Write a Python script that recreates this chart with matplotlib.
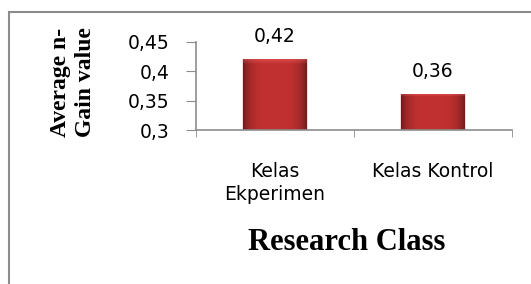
import matplotlib
matplotlib.use("Agg")
import matplotlib.pyplot as plt
import numpy as np
from matplotlib.patches import Rectangle

categories = ["Kelas\nEkperimen", "Kelas Kontrol"]
values = [0.42, 0.36]
value_labels = ["0,42", "0,36"]
yticks = [0.3, 0.35, 0.4, 0.45]
ytick_labels = ["0,3", "0,35", "0,4", "0,45"]

W, H = 531, 284
fig = plt.figure(figsize=(W / 100, H / 100), dpi=100)
fig.patch.set_facecolor("white")

# outer frame (cut off at right and bottom)
fig.patches.append(Rectangle((9 / W, -0.1), 1.2, 1 - 12 / H + 0.1,
                             transform=fig.transFigure, fill=False,
                             edgecolor="#8c8c8c", linewidth=1.5))

ax = fig.add_axes([196 / W, 1 - 130 / H, (512 - 196) / W, (130 - 42) / H])
ax.set_facecolor("none")
x = list(range(len(categories)))
ymin, ymax = 0.3, 0.45
bars = ax.bar(x, values, width=0.4, color="#b3262a", edgecolor="#f5d3d3",
              linewidth=1.2, zorder=3)

# shaded fill for each bar (darker at the sides, highlight at the top)
nx, ny = 64, 64
u = np.linspace(-1, 1, nx)
side = 1 - 0.40 * np.abs(u) ** 4
base = np.array([0.76, 0.19, 0.19])
img = np.ones((ny, nx, 3)) * base
img *= side[None, :, None]
top = np.zeros(ny)
top[:4] = np.linspace(0.35, 0.1, 4)
img = img + (np.array([1.0, 0.45, 0.45]) - img) * top[:, None, None]
img = np.clip(img, 0, 1)
for b in bars:
    x0, y0 = b.get_x(), max(b.get_y(), ymin)
    w, y1 = b.get_width(), b.get_y() + b.get_height()
    ax.imshow(img, extent=(x0, x0 + w, y0, y1), origin="upper",
              aspect="auto", zorder=4, interpolation="bilinear")
ax.set_xlim(-0.5, 1.5)
ax.set_ylim(ymin, ymax)

sans = ["DejaVu Sans"]
ax.set_yticks(yticks)
ax.set_yticklabels(ytick_labels, fontsize=13.5, family=sans)
ax.set_xticks(x)
ax.set_xticklabels(categories, fontsize=13.5, family=sans, linespacing=1.3)
ax.tick_params(axis="x", which="major", length=0, pad=23)
ax.set_xticks([-0.5, 0.5, 1.5], minor=True)
ax.tick_params(axis="x", which="minor", length=5, color="#8c8c8c", direction="out")
ax.tick_params(axis="y", length=7, color="#8c8c8c", direction="out", pad=12)

for s in ["top", "right"]:
    ax.spines[s].set_visible(False)
for s in ["left", "bottom"]:
    ax.spines[s].set_color("#8c8c8c")
    ax.spines[s].set_linewidth(1.2)
ax.spines["bottom"].set_zorder(5)

for xi, v, lab in zip(x, values, value_labels):
    ax.annotate(lab, (xi, v), xytext=(0, 13), textcoords="offset points",
                ha="center", va="baseline", fontsize=13.5, family=sans,
                annotation_clip=False)

fig.text(347 / W, 1 - 250 / H, "Research Class", ha="center", va="baseline",
         fontsize=22, fontweight="bold", family="Liberation Serif")
fig.text(73 / W, 1 - 82 / H, "Average n-\nGain value", rotation=90,
         ha="center", va="center", fontsize=17, fontweight="bold",
         family="Liberation Serif", linespacing=1.25)

fig.savefig("out.png", dpi=100)
